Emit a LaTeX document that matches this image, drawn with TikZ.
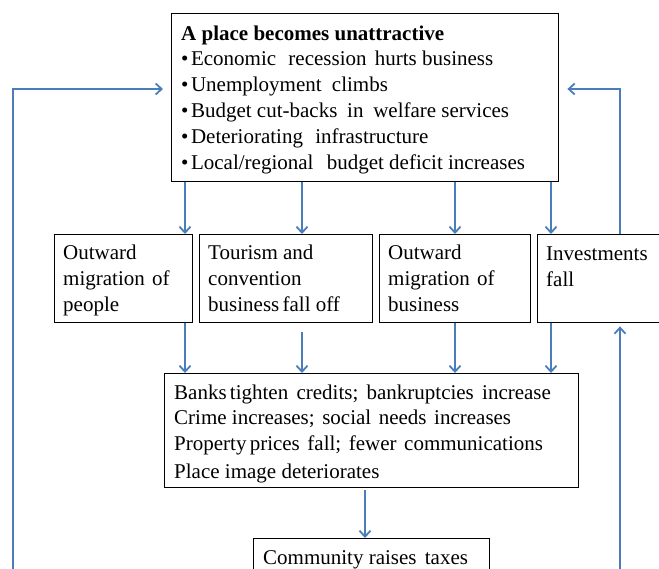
\documentclass[tikz,border=0pt]{standalone}
\usepackage{fontspec}
\setmainfont{Liberation Serif}
\usetikzlibrary{arrows.meta}
\definecolor{lineblue}{HTML}{4A7EBB}
\newcommand{\wsp}[1]{\hspace{#1pt}}
\newcommand{\bul}{\textbullet\hspace{0.12em}}
\begin{document}
\begin{tikzpicture}[x=1pt,y=-1pt,
  box/.style={draw=black,line width=1.4pt,inner sep=0pt,anchor=north west},
  txt/.style={inner sep=0pt,anchor=base west,align=left,font=\fontsize{21}{25.8}\selectfont},
  arr/.style={draw=lineblue,line width=1.8pt,-{Straight Barb[length=6pt,width=11pt,line width=1.8pt]}}]
\useasboundingbox (0,0) rectangle (659,568);
\clip (0,0) rectangle (659,568);
% boxes
\node[box,minimum width=387pt,minimum height=168pt] (top) at (171,13) {};
\node[box,minimum width=138pt,minimum height=88pt] (b1) at (54,234) {};
\node[box,minimum width=173pt,minimum height=88pt] (b2) at (199,234) {};
\node[box,minimum width=151pt,minimum height=88pt] (b3) at (379,234) {};
\node[box,minimum width=140pt,minimum height=88pt] (b4) at (537,234) {};
\node[box,minimum width=414pt,minimum height=114pt] (mid) at (164,373) {};
\node[box,minimum width=236pt,minimum height=45pt] (comm) at (253,538) {};
% texts (anchored at the baseline of their last line)
\node[txt] (ttop) at (181,169) {\textbf{A place becomes unattractive}\\
\bul Economic\wsp{7} recession\wsp{3} hurts business\\
\bul Unemployment\wsp{5} climbs\\
\bul Budget cut-backs\wsp{4.5} in\wsp{4.5} welfare services\\
\bul Deteriorating\wsp{7} infrastructure\\
\bul Local/regional\wsp{8} budget deficit increases};
\node[txt] (tb1) at (63,311) {Outward\\migration\wsp{2} of\\people};
\node[txt] (tb2) at (208,311) {Tourism and\\convention\\business\wsp{-2} fall off};
\node[txt] (tb3) at (388,311) {Outward\\migration\wsp{2} of\\business};
\node[txt] (tb4) at (546,286) {Investments\\fall};
\node[txt] (tmid) at (174,478) {Banks\wsp{-2} tighten\wsp{3} credits;\wsp{3} bankruptcies\wsp{3} increase\\[-0.8pt]
Crime increases;\wsp{2.3} social\wsp{2.3} needs\wsp{2.3} increases\\[0.2pt]
Property\wsp{-2} prices\wsp{2.3} fall;\wsp{2.3} fewer\wsp{2.3} communications\\[2.2pt]
Place image deteriorates};
\node[txt] (tcomm) at (263,564) {Community raises\wsp{3} taxes};
% helper positions
\coordinate (xa) at (185,0);
\coordinate (xb) at (302,0);
\coordinate (xc) at (455,0);
\coordinate (xd) at (551,0);
\coordinate (xe) at (365,0);
\coordinate (xl) at (13,0);
\coordinate (xr) at (620,0);
\coordinate (yl) at (0,89);
% down arrows from top box
\draw[arr] (top.south -| xa) -- (b1.north -| xa);
\draw[arr] (top.south -| xb) -- (b2.north -| xb);
\draw[arr] (top.south -| xc) -- (b3.north -| xc);
\draw[arr] (top.south -| xd) -- (b4.north -| xd);
% down arrows to middle box
\draw[arr] (b1.south -| xa) -- (mid.north -| xa);
\draw[arr] ([yshift=-9pt]b2.south -| xb) -- (mid.north -| xb);
\draw[arr] (b3.south -| xc) -- (mid.north -| xc);
\draw[arr] (b4.south -| xd) -- (mid.north -| xd);
% middle to community
\draw[arr] ([yshift=-2pt]mid.south -| xe) -- (comm.north -| xe);
% left loop
\draw[arr] ([yshift=-18pt]comm.west) -- ([yshift=-19pt]comm.west -| xl) -- (xl |- yl) -- ([xshift=-8pt]top.west |- yl);
% right loop up into investments
\draw[arr] ([yshift=-17pt]comm.east) -- ([yshift=-17pt]comm.east -| xr) -- ([yshift=-3pt]b4.south -| xr);
% investments up to top box
\draw[arr] (b4.north -| xr) -- (xr |- yl) -- ([xshift=8pt]top.east |- yl);
\end{tikzpicture}
\end{document}
